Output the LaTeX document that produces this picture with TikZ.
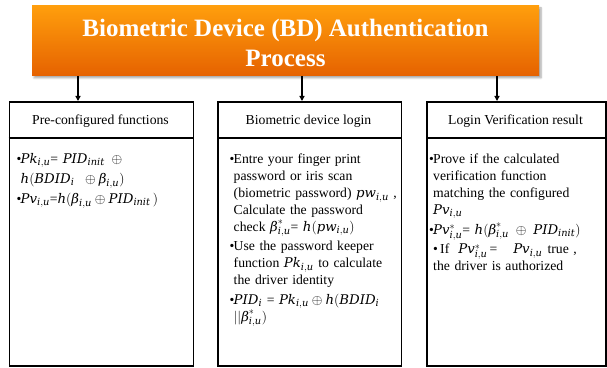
\RequirePackage{fix-cm}
\documentclass[tikz,border=0pt]{standalone}
\usepackage{fontspec}
\setmainfont{Liberation Serif}
\newfontfamily\formfont[NFSSFamily=formserif, Scale=0.97]{DejaVu Serif}
\DeclareMathAlphabet{\mathform}{TU}{formserif}{m}{it}
\def\defaultscriptratio{.74}
\usetikzlibrary{arrows.meta,shadows.blur}

% bullet item with hanging indent
\newcommand\bitem{\par\hangindent=4pt\hangafter=1\noindent\makebox[4pt][l]{\textbullet}}
% italic beta for use inside formulas
\newcommand\bt{\mbox{\formfont\itshape β}}
% formula set in the italic formula font
\newcommand\fm[1]{$\mathform{#1}$}

\tikzset{
  titlebox/.style={draw=none, top color=orange!80!yellow!95!white, bottom color=orange!85!red!90!black,
    blur shadow={shadow xshift=2pt, shadow yshift=-2pt, shadow blur steps=6, shadow opacity=35}},
  panel/.style={draw=black, line width=1.8pt, inner sep=0pt},
  headtext/.style={font=\fontsize{13.7}{16}\selectfont, inner sep=0pt},
  bodytext/.style={anchor=north west, inner sep=0pt, text width=#1,
    font=\fontsize{13.7}{16.8}\selectfont},
  arr/.style={-{Triangle[length=5pt,width=5pt]}, line width=1.4pt}
}

\begin{document}
\begin{tikzpicture}[x=1pt,y=1pt]
\useasboundingbox (0,0) rectangle (607,367);

% title bar
\path[titlebox] (32,291) rectangle (539,361);
\node[inner sep=0pt, minimum width=507pt, minimum height=70pt] (title) at (285.5,326) {};
\node[text=white, font=\fontsize{25}{30}\selectfont\bfseries, align=center, inner sep=0pt]
  (titletext) at (285.5,324) {Biometric Device (BD) Authentication\\Process};

% three panels
\node[panel, minimum width=184pt, minimum height=264pt, anchor=north west] (left) at (8.5,266) {};
\node[panel, minimum width=183.5pt, minimum height=264pt, anchor=north west] (mid) at (217,266) {};
\node[panel, minimum width=179pt, minimum height=264pt, anchor=north west] (right) at (426,266) {};

\draw[line width=1.8pt] (left.west |- 0,229) -- (left.east |- 0,229);
\draw[line width=1.8pt] (mid.west |- 0,229) -- (mid.east |- 0,229);
\draw[line width=1.8pt] (right.west |- 0,229) -- (right.east |- 0,229);

% headers
\node[headtext] (lefthead) at (100.5,246) {Pre-configured functions};
\node[headtext] (midhead) at (308.5,246) {Biometric device login};
\node[headtext] (righthead) at (515.5,246) {Login Verification result};

% arrows from title bar to panels
\coordinate (a1) at (78,0);
\coordinate (a2) at (302,0);
\coordinate (a3) at (497,0);
\draw[arr] (title.south -| a1) -- (left.north -| a1);
\draw[arr] (title.south -| a2) -- (mid.north -| a2);
\draw[arr] (title.south -| a3) -- (right.north -| a3);

% panel bodies
\node[bodytext=178pt] (leftbody) at (16.5,224) {\raggedright\baselineskip=20pt\lineskiplimit=-20pt
\bitem \fm{Pk_{i,u}}= \fm{PID_{init}}\, $\oplus$\newline
\fm{h(BDID_i\;\;\oplus\bt_{i,u})}
\bitem \fm{Pv_{i,u}}=\fm{h(\bt_{i,u}\oplus PID_{init}\,)}\par};

\node[bodytext=174pt] (midbody) at (229.5,223) {\raggedright\parskip=3pt\lineskiplimit=-20pt
\bitem Entre your finger print\newline
password or iris scan\newline
(biometric password) \fm{pw_{i,u}} ,\newline
Calculate the password\newline
check \fm{\bt^*_{i,u}}= \fm{h(pw_{i,u})}
\bitem Use the password keeper\newline
function \fm{Pk_{i,u}} to calculate\newline
the driver identity
\bitem \fm{PID_i} = \fm{Pk_{i,u}\oplus h(BDID_i}\newline
\fm{||\bt^*_{i,u})}\par};

\node[bodytext=176pt] (rightbody) at (429,223) {\raggedright\parskip=3pt\lineskiplimit=-20pt
\bitem Prove if the calculated\newline
verification function\newline
matching the configured\newline
\fm{Pv_{i,u}}
\bitem \fm{Pv^*_{i,u}}= \fm{h(\bt^*_{i,u}\;\oplus\; PID_{init})}
\par\hangindent=4pt\hangafter=1\noindent\hspace{4pt}\makebox[4pt][l]{\textbullet}\hspace{3pt}If\hspace{9pt}\fm{Pv^*_{i,u}}\hspace{2pt}=\hspace{16pt}\fm{Pv_{i,u}}\hspace{5pt}true ,\newline
the driver is authorized\par};

\end{tikzpicture}
\end{document}
